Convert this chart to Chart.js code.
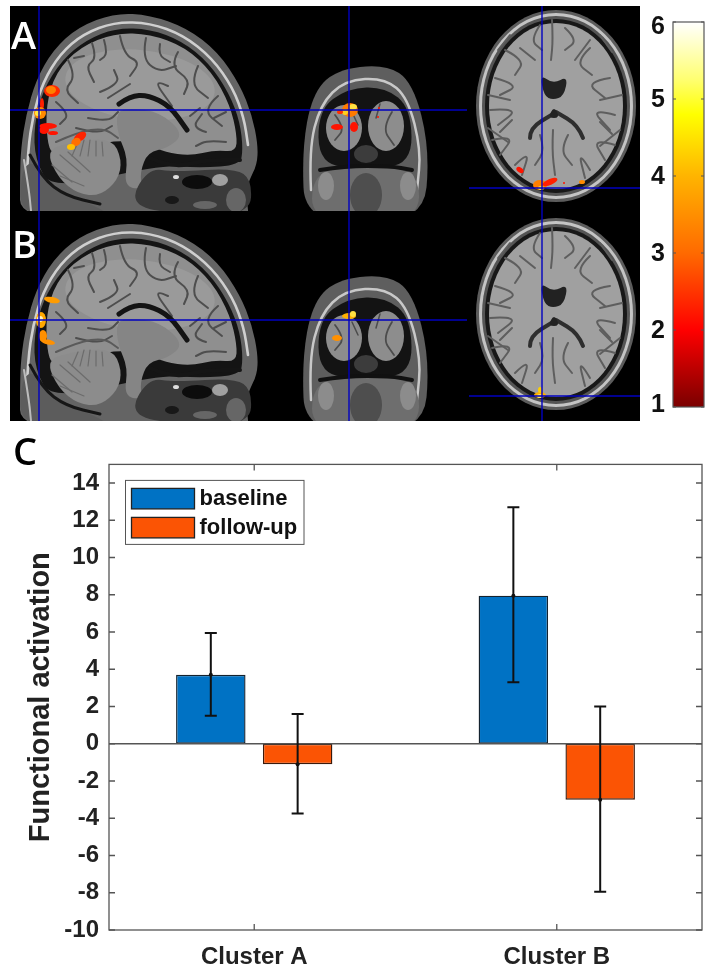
<!DOCTYPE html>
<html>
<head>
<meta charset="utf-8">
<title>Functional activation</title>
<script src="https://cdn.jsdelivr.net/npm/chart.js@4/dist/chart.umd.min.js"></script>
<style>
  html, body { margin: 0; padding: 0; background: #fff; }
  body { position: relative; width: 713px; height: 976px; overflow: hidden; }
  #brains { position: absolute; left: 0; top: 0; }
  #barWrap { position: absolute; left: 0; top: 440px; width: 713px; height: 536px; }
  #cbWrap { position: absolute; left: 630px; top: 0; width: 83px; height: 430px; }
  .letter { position: absolute; font: 600 38px "Open Sans", sans-serif; line-height: 38px; }
</style>
</head>
<body>
<canvas id="brains" width="713" height="430"></canvas>
<div class="letter" style="left:11px;top:15px;color:#fff">A</div>
<div class="letter" style="left:12px;top:224px;color:#fff">B</div>
<div class="letter" style="left:13px;top:431px;color:#000">C</div>
<div id="cbWrap"><canvas id="colorbar"></canvas></div>
<div id="barWrap"><canvas id="bars"></canvas></div>

<script>
// bar chart data
var categories = ["Cluster A", "Cluster B"];
var clusterPos = [1, 2];
var baseline = [3.7, 7.95];
var followUp = [-1.1, -3.0];
var baselineLow = [1.5, 3.3];
var baselineHigh = [5.95, 12.7];
var followUpLow = [-3.75, -7.95];
var followUpHigh = [1.6, 2.0];
var yTicks = [-10, -8, -6, -4, -2, 0, 2, 4, 6, 8, 10, 12, 14];

// colour bar data
var cbRange = [1, 6];
var cbTicks = [1, 2, 3, 4, 5, 6];

var FONT = '"Liberation Sans", Arial, sans-serif';
var BLUE = "#0072c4";
var ORANGE = "#fb5404";

// ---- brain panels (background picture, not chart data) ----
var c = document.getElementById("brains").getContext("2d");

function blob(pts, fill, stroke, lw) {
  c.beginPath();
  var n = pts.length;
  var mx = (pts[n - 1][0] + pts[0][0]) / 2, my = (pts[n - 1][1] + pts[0][1]) / 2;
  c.moveTo(mx, my);
  for (var i = 0; i < n; i++) {
    var nx = pts[(i + 1) % n];
    c.quadraticCurveTo(pts[i][0], pts[i][1], (pts[i][0] + nx[0]) / 2, (pts[i][1] + nx[1]) / 2);
  }
  c.closePath();
  if (fill) { c.fillStyle = fill; c.fill(); }
  if (stroke) { c.strokeStyle = stroke; c.lineWidth = lw; c.stroke(); }
}
function wiggle(pts, col, lw) {
  c.beginPath();
  c.moveTo(pts[0][0], pts[0][1]);
  for (var i = 1; i < pts.length - 1; i++) {
    c.quadraticCurveTo(pts[i][0], pts[i][1], (pts[i][0] + pts[i + 1][0]) / 2, (pts[i][1] + pts[i + 1][1]) / 2);
  }
  c.lineTo(pts[pts.length - 1][0], pts[pts.length - 1][1]);
  c.strokeStyle = col; c.lineWidth = lw; c.lineCap = "round"; c.stroke();
}
function oval(x, y, rx, ry, rot, fill) {
  c.beginPath();
  c.ellipse(x, y, rx, ry, rot || 0, 0, Math.PI * 2);
  c.fillStyle = fill; c.fill();
}

var scalpPts = [[20,225],[20,175],[21,148],[26,115],[36,80],[53,50],[78,27],[115,13],[150,15],[187,28],[218,52],[240,85],[252,115],[258,145],[257,165],[249,180],[246,195],[250,225]];
var skullPts = [[27,175],[28,150],[33,115],[43,82],[60,54],[83,34],[115,22],[150,23],[183,35],[212,58],[233,88],[244,118],[248,145]];
var darkPts = [[52,190],[35,160],[34,125],[43,90],[62,60],[86,40],[116,28],[150,29],[182,41],[209,63],[229,93],[240,122],[243,150],[240,165],[200,168],[160,165]];
var brainPts = [[47,140],[46,105],[56,72],[80,47],[115,33],[150,34],[185,47],[212,72],[230,105],[237,135],[236,152],[215,150],[190,156],[165,152],[150,145],[120,140],[95,145],[70,150],[52,155]];
var sagSulci = [
  [[92,43],[97,58],[86,66],[94,82]], [[104,40],[108,54],[100,60]], [[120,36],[124,55],[140,62],[130,76]], [[146,38],[142,58],[158,72],[176,66]],
  [[160,44],[158,55],[170,62]], [[178,52],[170,66],[190,80],[184,94]], [[198,66],[190,84],[208,98]], [[218,96],[202,110],[222,126]],
  [[68,60],[76,76],[64,90],[78,103]], [[56,102],[70,114],[60,124]], [[100,92],[120,84],[114,70]],
  [[206,132],[192,128],[202,114]], [[226,142],[208,140],[196,146]], [[88,118],[108,122],[118,112]], [[76,128],[98,134],[112,126]],
  [[168,86],[152,78],[172,106]], [[130,84],[108,98]], [[84,56],[74,58]], [[200,108],[190,116]], [[214,118],[226,112]]
];
var folia = [[78,142,72,156],[84,140,80,156],[90,140,88,156],[96,141,96,156],[102,142,103,156],[60,155,80,172],[68,152,90,172],[52,165,72,182],[60,176,84,186]];

function sagittal(dy) {
  c.save();
  c.translate(0, dy);
  c.beginPath(); c.rect(10, 0, 300, 211); c.clip();
  c.filter = "blur(0.7px)";
  blob(scalpPts, "#646464");
  wiggle(skullPts, "#cfcfcf", 2.6);
  blob(darkPts, "#141414");
  blob(brainPts, "#8f8f8f");
  oval(140, 85, 75, 35, 0.1, "#9a9a9a");
  sagSulci.forEach(function (s) { wiggle(s, "#4e4e4e", 2); });
  // cerebellum
  blob([[46,150],[72,142],[112,138],[122,160],[118,180],[100,196],[78,194],[58,178]], "#8c8c8c");
  folia.forEach(function (f) { wiggle([[f[0], f[1]], [f[2], f[3]]], "#6c6c6c", 1.2); });
  wiggle([[56,142],[78,132],[104,128],[118,138]], "#5a5a5a", 2);
  // thalamus, brainstem
  blob([[116,112],[130,108],[160,112],[184,134],[168,148],[148,152],[140,172],[142,190],[124,186],[128,158],[118,135]], "#858585");
  wiggle([[119,104],[130,96],[148,95],[170,106],[187,130]], "#141414", 5);
  // frontal base, sinus and face tissue
  wiggle([[150,158],[172,168],[205,160],[240,160]], "#151515", 4);
  blob([[148,168],[175,172],[235,168],[252,180],[250,215],[180,215],[128,205]], "#3a3a3a");
  oval(197,182,15,7,0,"#0c0c0c");
  oval(172,200,7,4,0,"#181818");
  oval(220,180,8,6,0,"#a0a0a0");
  oval(176,177,3,2,0,"#ddd");
  oval(236,200,10,12,0,"#666");
  oval(205,205,12,4,0,"#666");
  // nape
  blob([[20,220],[21,170],[34,160],[55,192],[95,205],[120,222]], "#5c5c5c");
  wiggle([[30,155],[42,178],[66,196],[100,204]], "#161616", 3);
  wiggle([[24,160],[29,190],[31,211]], "#bcbcbc", 2);
  c.restore();
}

function coronal(dy) {
  c.save();
  c.translate(0, dy);
  c.beginPath(); c.rect(290, 0, 170, 211); c.clip();
  c.filter = "blur(0.7px)";
  blob([[305,225],[302,150],[312,95],[335,70],[385,64],[413,82],[430,150],[423,225]], "#5e5e5e");
  wiggle([[311,190],[309,150],[320,105],[345,80],[385,78],[408,98],[421,150],[417,190]], "#c8c8c8", 2.5);
  blob([[319,165],[318,110],[348,88],[385,87],[411,108],[412,165],[365,168]], "#131313");
  oval(344, 128, 18, 23, 0, "#8d8d8d");
  oval(386, 126, 18, 25, 0, "#8d8d8d");
  wiggle([[335,115],[345,128],[335,140]], "#4c4c4c", 1.8);
  wiggle([[392,112],[382,128],[394,145]], "#4c4c4c", 1.8);
  wiggle([[352,112],[358,125]], "#4c4c4c", 1.5);
  wiggle([[380,104],[376,118]], "#4c4c4c", 1.5);
  oval(366, 154, 12, 9, 0, "#3c3c3c");
  blob([[312,172],[360,165],[420,170],[418,225],[312,225]], "#6e6e6e");
  oval(366, 195, 16, 22, 0, "#4e4e4e");
  oval(326, 186, 8, 14, 0, "#8c8c8c");
  oval(408, 186, 8, 14, 0, "#8c8c8c");
  wiggle([[320,170],[345,166],[390,166],[412,170]], "#111", 4);
  c.restore();
}

var axSulci = [
  [[505,50],[525,60],[515,75]], [[590,48],[575,62],[592,75]], [[540,25],[530,40],[542,50]], [[565,28],[578,40],[565,50]],
  [[495,78],[520,85],[500,95]], [[610,78],[585,82],[605,98]], [[490,110],[520,108],[498,125]], [[615,115],[590,108],[610,130]],
  [[492,140],[515,135],[500,155]], [[615,145],[592,138],[605,160]], [[515,165],[530,150],[522,175]], [[590,170],[578,150],[585,178]],
  [[552,20],[553,40],[551,60]], [[553,130],[552,150],[555,175]], [[540,135],[545,150],[535,165]], [[568,135],[560,150],[572,165]],
  [[510,35],[498,50]], [[600,35],[612,52]], [[488,95],[510,100]], [[622,95],[600,100]], [[512,120],[500,132]], [[600,122],[612,134]],
  [[488,128],[508,142]], [[620,130],[600,146]], [[535,60],[520,48]], [[575,60],[590,40]]
];

function axial(dy) {
  c.save();
  c.translate(0, dy);
  c.beginPath(); c.rect(468, -4, 172, 216); c.clip();
  c.filter = "blur(0.7px)";
  oval(556, 106, 80, 96, 0, "#5c5c5c");
  oval(556, 106, 77, 93, 0, "#c4c4c4");
  oval(556, 106, 74, 90, 0, "#555");
  oval(556, 106, 71, 87, 0, "#181818");
  oval(556, 106, 67, 83, 0, "#a0a0a0");
  axSulci.forEach(function (s) { wiggle(s, "#5e5e5e", 2); });
  // ventricles
  blob([[540,74],[553,84],[568,76],[564,96],[553,100],[544,96]], "#222");
  wiggle([[530,138],[530,128],[553,114]], "#2e2e2e", 4);
  wiggle([[583,138],[578,125],[556,112]], "#2e2e2e", 4);
  blob([[548,118],[554,106],[560,118]], "#222");
  c.restore();
}

function hot(list) {
  c.save();
  c.filter = "blur(0.4px)";
  list.forEach(function (h) { oval(h[0], h[1], h[2], h[3], h[4], h[5]); });
  c.restore();
}

c.fillStyle = "#000";
c.fillRect(10, 6, 630, 415);
[0, 210].forEach(function (dy) { sagittal(dy); coronal(dy); });
axial(0);
axial(208);

hot([
  [52,91,8,6,0,"#ff2a00"],[51,90,5,4,0,"#ff8000"],[42,104,2,6,0,"#ff2000"],[40,113,6,6,0,"#ff8a00"],[38,113,3,3,0,"#ffe840"],
  [48,126,9,3,0,"#ff1400"],[44,130,5,4,0,"#ff1400"],[53,133,5,2,0,"#ff1400"],[80,137,7,4,-0.6,"#ff2400"],[76,142,5,4,-0.6,"#ff7000"],[71,147,4,3,0,"#ffc000"],
  [350,110,8,7,0,"#ff7a00"],[353,107,4,3,0,"#ffe040"],[345,112,3,3,0,"#ffd020"],[340,112,3,2,0,"#ff3000"],[337,127,6,3,0,"#ff1400"],[354,127,4,5,0,"#ff1400"],[379,108,1,1,0,"#ff1400"],[378,117,1,1,0,"#ff1400"],
  [520,170,4,2.5,0.6,"#ff1400"],[540,185,7,5,0,"#ff8000"],[541,188,3,2,0,"#ffe040"],[550,182,8,3,-0.4,"#ff2000"],[582,182,3,2,0,"#ff8a00"],[564,183,1,1,0,"#ff1400"],
  // row B
  [52,300,8,3,0.2,"#ff9c00"],[41,320,5,8,0,"#ffa800"],[40,319,3,3,0,"#fff4c0"],[43,336,4,6,0,"#ff9000"],[48,342,7,2.5,0.2,"#ff9000"],
  [349,316,7,3,0,"#ffb000"],[353,314,3,3,0,"#ffe040"],[337,338,5,3,0,"#ff9000"],
  [540,395,6,3,0,"#ffb000"],[540,390,2,3,0,"#ffd000"],[540,396,3,2,0,"#ffe860"]
]);

// crosshairs
c.strokeStyle = "#0000c0";
c.lineWidth = 1.4;
[[10,110,467,110],[10,320,467,320],[469,188,640,188],[469,396,640,396],[39,6,39,421],[349,6,349,421],[542,6,542,421]].forEach(function (l) {
  c.beginPath(); c.moveTo(l[0], l[1]); c.lineTo(l[2], l[3]); c.stroke();
});

// ---- colour bar ----
var cbStops = [[0, "#7a0000"], [0.2, "#ff0000"], [0.4, "#ff6a00"], [0.6, "#ffb400"], [0.76, "#ffff00"], [0.85, "#ffff70"], [1, "#ffffff"]];

new Chart(document.getElementById("colorbar"), {
  type: "bar",
  data: {
    labels: [""],
    datasets: [{
      data: [cbRange],
      barPercentage: 1,
      categoryPercentage: 1,
      borderWidth: 0,
      backgroundColor: function (ctx) {
        var a = ctx.chart.chartArea;
        if (!a) return "#fff";
        var g = ctx.chart.ctx.createLinearGradient(0, a.bottom, 0, a.top);
        cbStops.forEach(function (s) { g.addColorStop(s[0], s[1]); });
        return g;
      }
    }]
  },
  options: {
    responsive: true,
    maintainAspectRatio: false,
    animation: false,
    layout: { padding: { top: 22, bottom: 23, right: 9, left: 0 } },
    plugins: { legend: { display: false }, tooltip: { enabled: false } },
    scales: {
      x: { display: false },
      y: {
        min: cbRange[0],
        max: cbRange[1],
        afterFit: function (s) { s.width = 43; },
        afterBuildTicks: function (s) { s.ticks = cbTicks.map(function (v) { return { value: v }; }); },
        grid: { display: false, drawTicks: false },
        border: { display: false },
        ticks: { display: false }
      }
    }
  },
  plugins: [{
    id: "cbFrame",
    afterDraw: function (chart) {
      var a = chart.chartArea, g = chart.ctx, y = chart.scales.y;
      g.save();
      g.strokeStyle = "#555";
      g.lineWidth = 1.2;
      g.strokeRect(a.left, a.top, a.width, a.height);
      g.fillStyle = "#111";
      g.font = "bold 25px " + FONT;
      g.textAlign = "center";
      g.textBaseline = "middle";
      cbTicks.forEach(function (v) {
        var p = y.getPixelForValue(v);
        g.beginPath();
        g.moveTo(a.left, p); g.lineTo(a.left + 3, p);
        g.moveTo(a.right, p); g.lineTo(a.right - 3, p);
        g.stroke();
        // end labels sit just inside the bar's length, as in the figure
        g.fillText(String(v), 28, Math.max(a.top + 5, Math.min(a.bottom - 2, p + 1)));
      });
      g.restore();
    }
  }]
});

// ---- bar chart ----
function points(values) {
  return values.map(function (v, i) { return { x: clusterPos[i], y: v }; });
}

var errors = [
  { low: baselineLow, high: baselineHigh },
  { low: followUpLow, high: followUpHigh }
];

var matlabLook = {
  id: "matlabLook",
  afterDatasetsDraw: function (chart) {
    var g = chart.ctx, a = chart.chartArea, y = chart.scales.y, x = chart.scales.x;
    g.save();

    // zero line
    g.strokeStyle = "#555";
    g.lineWidth = 1.5;
    g.beginPath();
    g.moveTo(a.left, y.getPixelForValue(0));
    g.lineTo(a.right, y.getPixelForValue(0));
    g.stroke();

    // error bars
    g.strokeStyle = "#111";
    g.fillStyle = "#111";
    g.lineWidth = 2;
    errors.forEach(function (e, d) {
      chart.getDatasetMeta(d).data.forEach(function (bar, i) {
        var lo = y.getPixelForValue(e.low[i]), hi = y.getPixelForValue(e.high[i]);
        g.beginPath();
        g.moveTo(bar.x, lo); g.lineTo(bar.x, hi);
        g.moveTo(bar.x - 6, lo); g.lineTo(bar.x + 6, lo);
        g.moveTo(bar.x - 6, hi); g.lineTo(bar.x + 6, hi);
        g.stroke();
        g.beginPath();
        g.arc(bar.x, bar.y, 2, 0, Math.PI * 2);
        g.fill();
      });
    });

    // box and inward ticks
    g.strokeStyle = "#555";
    g.lineWidth = 1.3;
    g.strokeRect(a.left, a.top, a.width, a.height);
    g.beginPath();
    yTicks.forEach(function (v) {
      var p = y.getPixelForValue(v);
      g.moveTo(a.left, p); g.lineTo(a.left + 6, p);
      g.moveTo(a.right, p); g.lineTo(a.right - 6, p);
    });
    clusterPos.forEach(function (v) {
      var p = x.getPixelForValue(v);
      g.moveTo(p, a.bottom); g.lineTo(p, a.bottom - 6);
      g.moveTo(p, a.top); g.lineTo(p, a.top + 6);
    });
    g.stroke();

    // legend box
    var lx = 125.5, ly = a.top + 16;
    g.fillStyle = "#fff";
    g.fillRect(lx, ly, 178.5, 64);
    g.strokeStyle = "#555";
    g.lineWidth = 1;
    g.strokeRect(lx, ly, 178.5, 64);
    chart.data.datasets.forEach(function (ds, i) {
      var top = ly + 8 + i * 29;
      g.fillStyle = ds.backgroundColor;
      g.strokeStyle = "#222";
      g.lineWidth = 1.3;
      g.fillRect(lx + 6, top, 63, 20.5);
      g.strokeRect(lx + 6, top, 63, 20.5);
      g.fillStyle = "#111";
      g.font = "bold 22px " + FONT;
      g.textBaseline = "middle";
      g.fillText(ds.label, lx + 74, top + 11);
    });
    g.restore();
  }
};

new Chart(document.getElementById("bars"), {
  type: "bar",
  data: {
    datasets: [
      { label: "baseline", data: points(baseline), backgroundColor: BLUE, borderColor: "#14222e", borderWidth: 1.4, borderSkipped: false, barPercentage: 0.8, categoryPercentage: 0.574 },
      { label: "follow-up", data: points(followUp), backgroundColor: ORANGE, borderColor: "#3a1a0c", borderWidth: 1.4, borderSkipped: false, barPercentage: 0.8, categoryPercentage: 0.574 }
    ]
  },
  options: {
    responsive: true,
    maintainAspectRatio: false,
    animation: false,
    layout: { padding: { top: 24, right: 11, left: 0, bottom: 0 } },
    plugins: { legend: { display: false }, tooltip: { enabled: false } },
    scales: {
      x: {
        type: "linear",
        min: 0.52,
        max: 2.48,
        offset: false,
        afterFit: function (s) { s.height = 46; },
        grid: { display: false, drawTicks: false },
        border: { display: false },
        ticks: {
          stepSize: 1,
          includeBounds: false,
          padding: 13,
          color: "#222",
          font: { family: FONT, weight: "bold", size: 24 },
          callback: function (v) { return categories[v - 1]; }
        }
      },
      y: {
        min: -10,
        max: 15,
        afterFit: function (s) { s.width = 109; },
        grid: { display: false, drawTicks: false },
        border: { display: false },
        title: {
          display: true,
          text: "Functional activation",
          color: "#222",
          padding: { top: 24, bottom: 0 },
          font: { family: FONT, weight: "bold", size: 29 }
        },
        ticks: {
          stepSize: 2,
          includeBounds: false,
          padding: 10,
          color: "#222",
          font: { family: FONT, weight: "bold", size: 24 }
        }
      }
    }
  },
  plugins: [matlabLook]
});
</script>
</body>
</html>
